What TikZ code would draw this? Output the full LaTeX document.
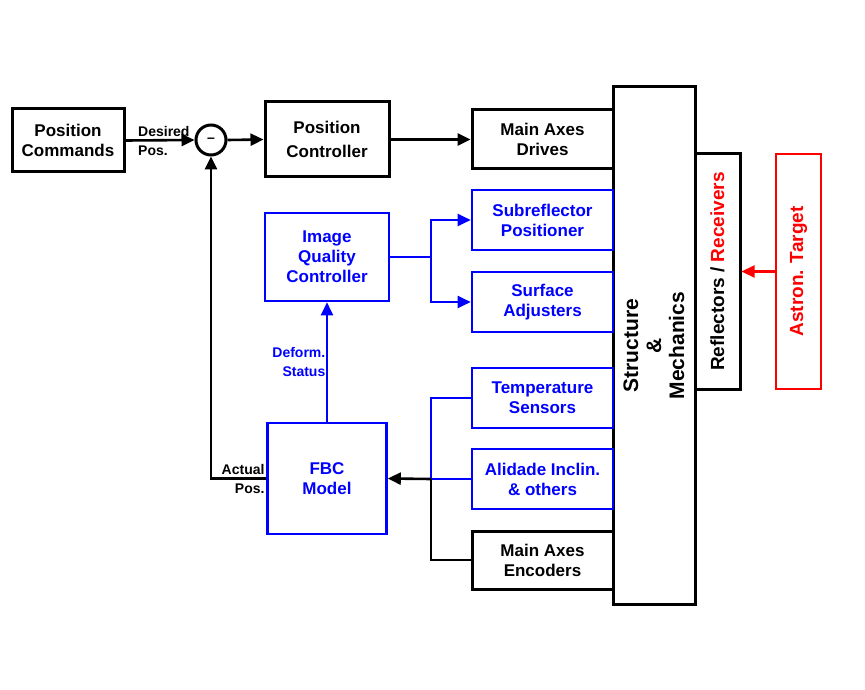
\documentclass[tikz,border=0pt]{standalone}
\usepackage{fontspec}
\setmainfont{Liberation Sans}
\usetikzlibrary{arrows.meta}

\definecolor{fbcblue}{RGB}{0,0,255}
\definecolor{tgtred}{RGB}{255,0,0}

\tikzset{
    box/.style = {draw, line width=3pt, inner sep=1pt, align=center,
                  font=\bfseries\fontsize{17}{20}\selectfont},
    bluebox/.style = {box, line width=2.6pt, draw=fbcblue, text=fbcblue},
    redbox/.style = {box, line width=2.6pt, draw=tgtred, text=tgtred},
    sumnode/.style = {draw, circle, line width=3pt, minimum size=30pt, inner sep=0pt,
                      font=\bfseries\fontsize{14}{14}\selectfont},
    sidetext/.style = {rotate=90, align=center, inner sep=0pt,
                       font=\bfseries\fontsize{19}{22}\selectfont},
    smalllbl/.style = {inner sep=1.5pt, font=\bfseries\fontsize{14}{19}\selectfont},
    wire/.style = {line width=2.6pt},
    bluewire/.style = {wire, line width=2.2pt, draw=fbcblue},
    redwire/.style = {wire, line width=2.2pt, draw=tgtred}
}

\begin{document}
\begin{tikzpicture}[x=1pt, y=-1pt, >={Triangle[length=13pt,width=12pt]}]
\useasboundingbox (0,0) rectangle (865,690);

% main position loop
\node[box, minimum width=112, minimum height=63] (poscmd) at (68,140.5) {Position\\Commands};
\node[sumnode] (sum) at (211,140) {\raisebox{-3pt}{--}};
\node[box, minimum width=124, minimum height=75] (posctrl) at (327,139.5) {Position\\[4pt]Controller};
\node[box, minimum width=141, minimum height=59] (drives) at (542.5,139.5) {Main Axes\\Drives};

% plant
\node[box, minimum width=82, minimum height=517] (struct) at (654,345.5) {};
\node[sidetext, font=\bfseries\fontsize{21}{23}\selectfont] (structtxt) at (struct.center) {Structure\\\&\\Mechanics};
\node[box, minimum width=45, minimum height=235] (refl) at (717.5,271.5) {};
\node[sidetext] (refltxt) at (refl.center) {Reflectors / \textcolor{tgtred}{Receivers}};
\node[redbox, minimum width=45, minimum height=235] (target) at (798.5,271.5) {};
\node[sidetext, text=tgtred] (targettxt) at (target.center) {Astron. Target};

% image quality branch
\node[bluebox, minimum width=124, minimum height=88] (iqc) at (327,257) {Image\\Quality\\Controller};
\node[bluebox, minimum width=141, minimum height=60] (subrefl) at (542.5,220) {Subreflector\\Positioner};
\node[bluebox, minimum width=141, minimum height=60] (surf) at (542.5,302) {Surface\\Adjusters};

% sensors and model
\node[bluebox, minimum width=141, minimum height=60] (temp) at (542.5,398) {Temperature\\Sensors};
\node[bluebox, minimum width=141, minimum height=60] (alid) at (542.5,479) {Alidade Inclin.\\\& others};
\node[box, minimum width=141, minimum height=58] (enc) at (542.5,560) {Main Axes\\Encoders};
\node[bluebox, minimum width=119, minimum height=111] (fbc) at (327,478.5) {FBC\\Model};

% labels
\node[smalllbl, anchor=west, align=left] (deslbl) at ([xshift=11pt]poscmd.east) {Desired\\Pos.};
\node[smalllbl, anchor=east, align=right] (actlbl) at (fbc.west) {Actual\\Pos.};
\path (fbc.north) -- (iqc.south) node[smalllbl, midway, left, align=right, text=fbcblue] (deflbl) {Deform.\\Status};

\coordinate (iqcsplit) at (431,257);
\coordinate (busin) at (431,479);

% connectors
\draw[wire,->] (poscmd.east) -- (sum.west);
\draw[wire,->] (sum.east) -- (posctrl.west);
\draw[wire,->] (posctrl.east) -- (drives.west);
\draw[bluewire] (iqc.east) -- (iqcsplit);
\draw[bluewire,->] (iqcsplit) |- (subrefl.west);
\draw[bluewire,->] (iqcsplit) |- (surf.west);
\draw[bluewire,->] (fbc.north) -- (iqc.south);
\draw[bluewire] (temp.west) -| (busin) -- (alid.west);
\draw[wire] (enc.west) -| (busin);
\draw[wire,->] (busin) -- (fbc.east);
\draw[wire,->] (fbc.west) -| (sum.south);
\draw[redwire,->] (target.west) -- (refl.east);
\end{tikzpicture}
\end{document}
